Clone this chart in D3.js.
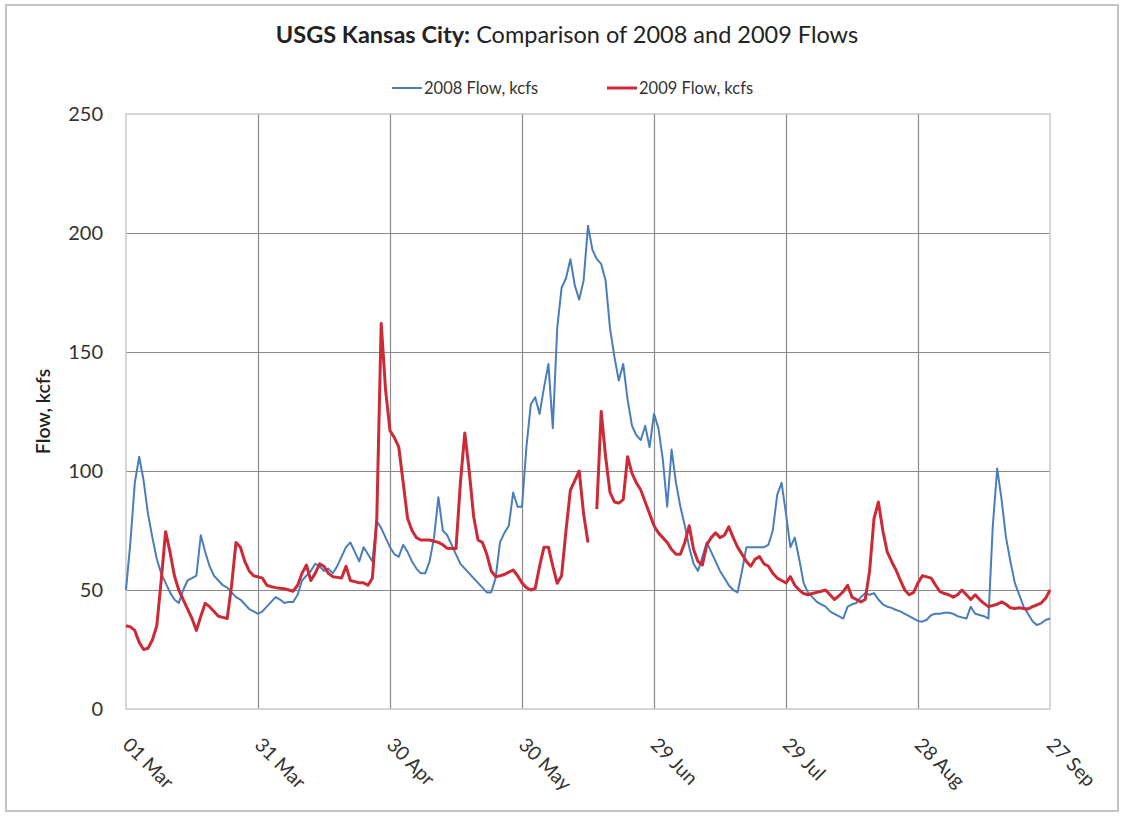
<!DOCTYPE html>
<html>
<head>
<meta charset="utf-8">
<script src="https://cdn.jsdelivr.net/npm/d3@7"></script>
<style>
  html, body { margin: 0; padding: 0; background: #fff; }
  svg { display: block; }
  text { font-family: Lato, "Open Sans", "DejaVu Sans", sans-serif; }
</style>
</head>
<body>
<svg id="chart" width="1125" height="817"></svg>
<script>
// ---- Data (daily flows, kcfs, from 01 Mar) ----
const startDate = "2009-03-01";
const flow2008 = [
  50,70,95,106,96,82,72,63,57,53,
  49,46,44.5,50,54,55,56,73,66,60,
  56,54,52,51,49,47,46,44,42,41,
  40,41,43,45,47,46,44.5,45,45,48,
  54,56,58,61,60,58,59,57,60,64,
  68,70,66,62,68,65,62,79,76,72,
  68,65,64,69,66,62,59,57,57,62,
  72,89,75,73,69,65,61,59,57,55,
  53,51,49,49,55,70,74,77,91,85,
  85,110,128,131,124,135,145,118,160,177,
  181,189,178,172,180,203,193,189,187,180,
  160,148,138,145,130,119,115,113,119,110,
  124,118,105,85,109,95,85,77,68,61,
  58,64,70,66,62,58,55,52,50,49,
  58,68,68,68,68,68,69,75,90,95,
  82,68,72,63,53,49,47,45,44,43,
  41,40,39,38,43,44,44.5,47,48.6,48,
  48.7,46,44,43,42.5,41.6,41,40,39,38,
  37,36.7,37.5,39.5,40,40,40.4,40.4,40,39,
  38.5,38,43,40,39.5,39,38,77,101,88,
  72,62,53,48,43,40,37,35.3,36,37.4,
  38
];
const flow2009 = [
  35,34.5,33,28,25,25.5,29,35,54,74.5,
  66,56,50,46,42,38,33,39,44.4,43,
  41,39,38.5,38,52,70,68,62,58,56,
  55.5,55,52,51.4,51,50.7,50.5,50,49.5,52,
  57,60.5,54,57,61,60,57,55.6,55.3,55,
  60,54,53.5,53,53,52,55,80,162,134,
  117,114,110,95,80,75,72,71,71,71,
  70.5,70,69,67.5,67.4,67.4,95,116,100,81,
  71,70,65,58,55.6,56,56.5,57.5,58.4,56,
  53,51,50,50.7,60,68,68,60,52.8,56,
  75,92,96,100,82,70,null,84,125,106,
  91,87,86.5,88,106,99,95,92,87,82,
  77,74,72,70,67,65,65,70,77,67,
  62,60.5,69,72,74,72,73,76.6,72,68,
  65,62,60,63,64,61,60,57,55,54,
  53,55.6,52,50,48.5,48,48.5,49,49.5,50,
  48,46,47.5,49.3,52,47,46,45,46,58,
  80,87,75,66,62,58.4,54,50,48,49,
  53,56,55.5,55,52,49.3,48.5,48,47,48,
  50,48,46,48,46,44.4,43,43.5,44,45,
  44,42.5,42.2,42.5,42.2,42,43,43.7,44.5,46.5,
  50
];
const seriesNames = ["2008 Flow, kcfs", "2009 Flow, kcfs"];
const tickDates = ["2009-03-01","2009-03-31","2009-04-30","2009-05-30","2009-06-29","2009-07-29","2009-08-28","2009-09-27"];
const tickLabels = ["01 Mar","31 Mar","30 Apr","30 May","29 Jun","29 Jul","28 Aug","27 Sep"];
const yTicks = [0, 50, 100, 150, 200, 250];

// ---- Layout ----
const svg = d3.select("#chart");
const m = { left: 126, top: 114, right: 1050, bottom: 709 };

svg.append("rect").attr("x", 6).attr("y", 5).attr("width", 1112).attr("height", 806)
  .attr("fill", "#fff").attr("stroke", "#c4c4c4").attr("stroke-width", 2);

const parse = d3.utcParse("%Y-%m-%d");
const t0 = parse(startDate);
const dates = flow2008.map((_, i) => d3.utcDay.offset(t0, i));

const x = d3.scaleUtc().domain([t0, parse(tickDates[tickDates.length - 1])]).range([m.left, m.right]);
const y = d3.scaleLinear().domain([0, 250]).range([m.bottom, m.top]);

// grid
const g = svg.append("g");
g.selectAll("line.hg").data(yTicks.filter(v => v > 0 && v < 250)).join("line")
  .attr("x1", m.left).attr("x2", m.right)
  .attr("y1", d => Math.round(y(d)) + 0.5).attr("y2", d => Math.round(y(d)) + 0.5)
  .attr("stroke", "#8a8a8a").attr("stroke-width", 1.2);
g.selectAll("line.vg").data(tickDates.slice(1, -1)).join("line")
  .attr("y1", m.top).attr("y2", m.bottom)
  .attr("x1", d => Math.round(x(parse(d))) + 0.5).attr("x2", d => Math.round(x(parse(d))) + 0.5)
  .attr("stroke", "#8a8a8a").attr("stroke-width", 1.2);
g.append("rect").attr("x", m.left).attr("y", m.top)
  .attr("width", m.right - m.left).attr("height", m.bottom - m.top)
  .attr("fill", "none").attr("stroke", "#c8c8c8").attr("stroke-width", 1.5);

// y axis labels
const yAxis = d3.axisLeft(y).tickValues(yTicks).tickSize(0).tickPadding(23);
const ya = svg.append("g").attr("transform", `translate(${m.left},0)`).call(yAxis);
ya.select(".domain").remove();
ya.selectAll("text").attr("font-size", 20).attr("fill", "#333")
  .style("font-family", "Lato, 'Open Sans', sans-serif");

// x axis labels
const xAxis = d3.axisBottom(x).tickValues(tickDates.map(parse)).tickSize(0)
  .tickFormat((d, i) => tickLabels[i]);
const xa = svg.append("g").attr("transform", `translate(0,${m.bottom})`).call(xAxis);
xa.select(".domain").remove();
xa.selectAll("text").attr("font-size", 19.5).attr("fill", "#333")
  .attr("text-anchor", "start").attr("dy", null).attr("y", 0)
  .attr("transform", "translate(-5,37) rotate(45)")
  .style("font-family", "Lato, 'Open Sans', sans-serif");

// y title
svg.append("text").attr("transform", `translate(50,${(m.top + m.bottom) / 2 + 0}) rotate(-90)`)
  .attr("text-anchor", "middle").attr("font-size", 19.5).attr("font-weight", 600).attr("fill", "#222")
  .text("Flow, kcfs");

// title
const title = svg.append("text").attr("x", 567).attr("y", 43).attr("text-anchor", "middle")
  .attr("font-size", 23.5).attr("fill", "#222");
title.append("tspan").attr("font-weight", 700).text("USGS Kansas City:");
title.append("tspan").text(" Comparison of 2008 and 2009 Flows");

// lines
const colors = ["#4a7ebb", "#cc2a36"];
const widths = [2, 3];
const line = d3.line().defined(d => d[1] != null).x(d => x(d[0])).y(d => y(d[1]));
[flow2008, flow2009].forEach((arr, k) => {
  svg.append("path").datum(arr.map((v, i) => [dates[i], v]))
    .attr("fill", "none").attr("stroke", colors[k]).attr("stroke-width", widths[k])
    .attr("stroke-linejoin", "round").attr("d", line);
});

// legend
const legX = [392, 607];
seriesNames.forEach((n, k) => {
  svg.append("line").attr("x1", legX[k]).attr("x2", legX[k] + 30).attr("y1", 88).attr("y2", 88)
    .attr("stroke", colors[k]).attr("stroke-width", widths[k]);
  svg.append("text").attr("x", legX[k] + 32).attr("y", 94).attr("font-size", 16.5).attr("fill", "#333")
    .text(n);
});
</script>
</body>
</html>
